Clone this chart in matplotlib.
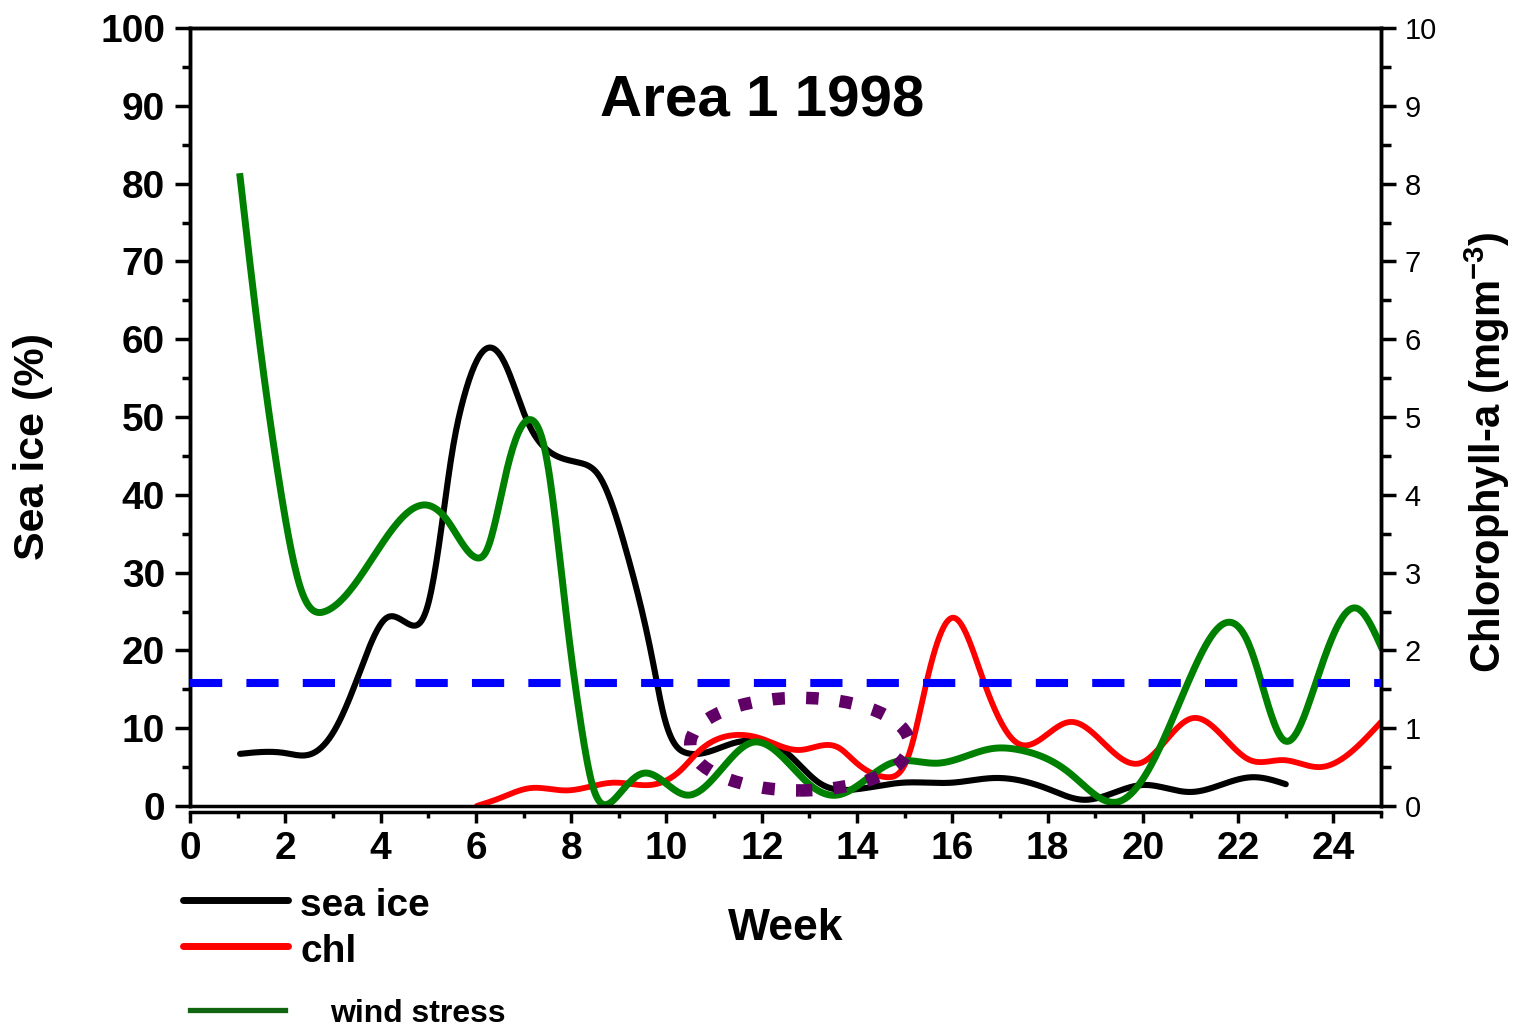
import numpy as np
import matplotlib
matplotlib.use("Agg")
import matplotlib.pyplot as plt
from matplotlib.lines import Line2D
from matplotlib.patches import Ellipse
from matplotlib.ticker import MultipleLocator

plt.rcParams["font.family"] = ["Liberation Sans", "DejaVu Sans"]
plt.rcParams["mathtext.fontset"] = "custom"
plt.rcParams["mathtext.rm"] = "Liberation Sans"
plt.rcParams["mathtext.bf"] = "Liberation Sans:bold"

# values (week, value)
ice_week = [1.05, 2.0, 2.5, 3.0, 3.5, 4.13, 4.62, 5.0, 5.25, 5.5, 5.75, 6.0, 6.26,
            6.6, 7.07, 7.49, 8.19, 8.6, 9.17, 9.72, 9.93, 10.22, 10.43, 11.48, 11.7,
            12.53, 13.2, 13.9, 14.97, 16.0, 16.9, 18.05, 18.75, 20.0, 21.0, 22.3, 23.0]
ice_pct = [6.7, 6.8, 6.6, 9.4, 16.2, 24.2, 23.3, 26.0, 34.6, 45.4, 52.6, 57.0, 58.9,
           57.0, 49.6, 45.8, 44.1, 42.3, 32.5, 18.4, 12.0, 7.6, 6.8, 8.2, 8.4,
           6.8, 3.0, 2.1, 3.0, 3.0, 3.6, 2.1, 0.8, 2.7, 1.8, 3.7, 2.8]

chl_week = [6.02, 6.5, 7.14, 7.9, 8.9, 9.66, 10.0, 10.3, 10.64, 11.4, 11.97, 12.8,
            13.64, 13.92, 14.63, 15.1, 15.47, 16.02, 16.65, 17.36, 18.47, 19.94,
            21.05, 22.25, 22.95, 23.72, 25.0]
chl_mg = [0.0, 0.1, 0.23, 0.2, 0.3, 0.27, 0.33, 0.46, 0.68, 0.91, 0.87, 0.72,
          0.74, 0.59, 0.37, 0.68, 1.62, 2.42, 1.62, 0.81, 1.08, 0.55,
          1.13, 0.59, 0.59, 0.5, 1.08]

wind_week = [1.05, 1.4, 1.89, 2.31, 2.83, 3.42, 4.13, 4.93, 5.39, 6.02, 6.23, 6.65,
             7.18, 7.49, 7.91, 8.19, 8.46, 8.75, 9.03, 9.51, 10.43, 11.82, 13.08,
             13.58, 14.76, 15.68, 16.86, 17.42, 18.47, 19.45, 20.15, 21.0, 21.66,
             22.25, 22.95, 23.65, 24.5, 25.0]
wind_val = [80.9, 62.5, 41.0, 28.2, 25.0, 28.2, 34.6, 38.7, 36.8, 31.9, 32.9, 43.2,
            49.6, 44.5, 23.9, 11.1, 2.4, 0.2, 1.7, 4.2, 1.4, 8.2, 2.4,
            1.4, 5.6, 5.5, 7.4, 7.2, 4.2, 0.5, 5.0, 16.6, 23.3,
            20.4, 8.5, 16.2, 25.4, 20.5]

threshold = 15.8   # sea ice %, blue dashed line


def smooth(x, y, n=800):
    # natural cubic spline through the read points, for drawing only
    x = np.asarray(x, float)
    y = np.asarray(y, float)
    k = len(x)
    h = np.diff(x)
    A = np.zeros((k, k))
    b = np.zeros(k)
    A[0, 0] = A[-1, -1] = 1
    for i in range(1, k - 1):
        A[i, i - 1] = h[i - 1]
        A[i, i] = 2 * (h[i - 1] + h[i])
        A[i, i + 1] = h[i]
        b[i] = 6 * ((y[i + 1] - y[i]) / h[i] - (y[i] - y[i - 1]) / h[i - 1])
    M = np.linalg.solve(A, b)
    xs = np.linspace(x[0], x[-1], n)
    j = np.clip(np.searchsorted(x, xs) - 1, 0, k - 2)
    a = x[j + 1] - xs
    c = xs - x[j]
    ys = (M[j] * a**3 / (6 * h[j]) + M[j + 1] * c**3 / (6 * h[j])
          + (y[j] / h[j] - M[j] * h[j] / 6) * a + (y[j + 1] / h[j] - M[j + 1] * h[j] / 6) * c)
    return xs, ys


fig = plt.figure(figsize=(15.19, 10.27), dpi=100)
ax = fig.add_axes([0.1251, 0.2152, 0.7841, 0.7575])
ax2 = ax.twinx()

ax.set_xlim(0, 25)
ax.set_ylim(0, 100)
ax2.set_ylim(0, 10)

ax.plot(*smooth(ice_week, ice_pct), color="black", lw=4.4, solid_capstyle="round")
ax2.plot(*smooth(chl_week, chl_mg), color="#ff0000", lw=4.2, solid_capstyle="round")
wx, wy = smooth(wind_week, wind_val)
ax2.plot(wx, wy, color="#008000", lw=5, transform=ax.transData)
ax2.axhline(threshold / 10, color="#0000ff", lw=5.8, dashes=(4, 3), zorder=3)
ax2.add_patch(Ellipse((12.8, 0.795), 4.6, 1.19, fill=False, ec="#600066",
                      lw=9, ls=(0, (1.0, 1.7)), zorder=4))

# spines
for sp in ax.spines.values():
    sp.set_linewidth(2.5)
for sp in ax2.spines.values():
    sp.set_linewidth(2.5)
ax.spines["bottom"].set_position(("outward", 4.3))

ax.xaxis.set_major_locator(MultipleLocator(2))
ax.xaxis.set_minor_locator(MultipleLocator(1))
ax.yaxis.set_major_locator(MultipleLocator(10))
ax.yaxis.set_minor_locator(MultipleLocator(5))
ax2.yaxis.set_major_locator(MultipleLocator(1))
ax2.yaxis.set_minor_locator(MultipleLocator(0.5))

ax.tick_params(axis="x", which="major", direction="out", length=8, width=2.5,
               labelsize=28, pad=6)
ax.tick_params(axis="x", which="minor", direction="out", length=4, width=2.5)
ax.tick_params(axis="y", which="major", direction="out", length=11, width=2.5,
               labelsize=28, pad=7)
ax.tick_params(axis="y", which="minor", direction="out", length=6, width=2.5)
for lab in ax.get_xticklabels() + ax.get_yticklabels():
    lab.set_fontweight("bold")

ax2.tick_params(axis="y", which="major", direction="out", length=11, width=2.5,
                labelsize=21, pad=6)
ax2.tick_params(axis="y", which="minor", direction="out", length=7, width=2.5)
ax2.tick_params(axis="x", which="both", top=True, bottom=False, direction="in",
                labeltop=False, labelbottom=False, width=2.5)
ax2.tick_params(axis="x", which="major", length=11)
ax2.tick_params(axis="x", which="minor", length=6)
ax2.xaxis.set_major_locator(MultipleLocator(2))
ax2.xaxis.set_minor_locator(MultipleLocator(1))

# texts
fig.text(0.5016, 0.8861, "Area 1 1998", fontsize=42, fontweight="bold",
         ha="center", va="baseline")
fig.text(0.0217, 0.5648, "Sea ice (%)", fontsize=31, fontweight="bold",
         rotation=90, ha="center", va="center")
fig.text(0.979, 0.56, r"Chlorophyll-a (mgm$^{\mathbf{-3}}$)", fontsize=30,
         fontweight="bold", rotation=90, ha="center", va="center")
fig.text(0.5175, 0.0847, "Week", fontsize=32, fontweight="bold",
         ha="center", va="baseline")

# hand-made legend under the axes
fig.add_artist(Line2D([0.1205, 0.1896], [0.1237, 0.1237], color="black", lw=5,
                      solid_capstyle="round"))
fig.add_artist(Line2D([0.1205, 0.1896], [0.0789, 0.0789], color="#ff0000", lw=5,
                      solid_capstyle="round"))
fig.add_artist(Line2D([0.1251, 0.1876], [0.0166, 0.0166], color="#126612", lw=3.8))
fig.text(0.1975, 0.1081, "sea ice", fontsize=28, fontweight="bold", va="baseline")
fig.text(0.1975, 0.0633, "chl", fontsize=28, fontweight="bold", va="baseline")
fig.text(0.2172, 0.0049, "wind stress", fontsize=23, fontweight="bold", va="baseline")

fig.savefig("out.png", dpi=100)
